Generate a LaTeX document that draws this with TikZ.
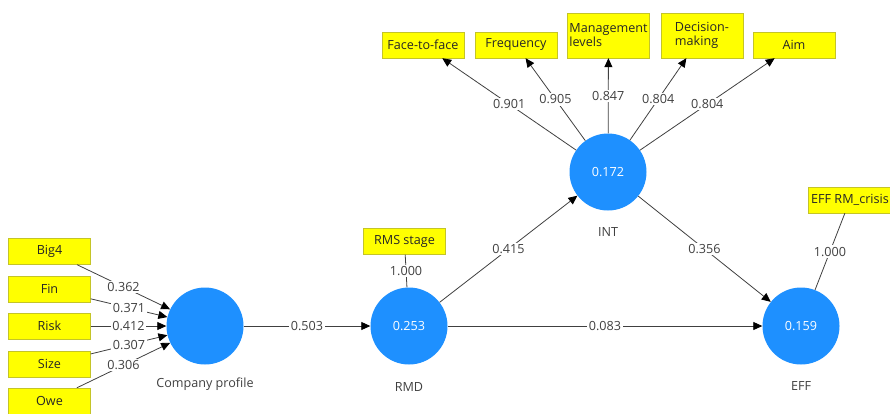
\documentclass[tikz,border=0pt]{standalone}
\usepackage{fontspec}
\setmainfont{Open Sans}
\usetikzlibrary{arrows.meta}
\definecolor{itemyellow}{RGB}{255,255,0}
\definecolor{itemborder}{RGB}{196,196,40}
\definecolor{lvblue}{RGB}{30,144,255}
\definecolor{linegray}{RGB}{64,64,64}
\def\plsfont{\fontsize{12.6}{14}\selectfont}
\tikzset{
	item/.style={draw=itemborder, fill=itemyellow, minimum width=82pt, minimum height=26pt, inner sep=1pt, text=black!85, align=left, font=\plsfont},
	lv/.style={circle, fill=lvblue, minimum size=77pt, inner sep=0pt, text=white, font=\plsfont},
	lvname/.style={text=linegray, font=\plsfont},
	load/.style={draw=linegray, line width=0.8pt, -{Triangle[length=9pt,width=8pt,color=black]}},
	single/.style={draw=linegray, line width=0.8pt},
	coef/.style={midway, fill=white, inner sep=1.5pt, text=linegray, font=\plsfont}
}

\begin{document}
\begin{tikzpicture}[x=1pt,y=-1pt]
			%%%%% START %%%%%
			\useasboundingbox (0,0) rectangle (890,413);
			
			\node[lv] (cp) at (205,326) {};
			\node[lv] (rmd) at (409,326) {0.253};
			\node[lv] (int) at (608,172) {0.172};
			\node[lv] (eff) at (801,326) {0.159};
			
			\node[lvname] (cpname) at (205,384) {Company profile};
			\node[lvname] (rmdname) at (409,387) {RMD};
			\node[lvname] (intname) at (608,232) {INT};
			\node[lvname] (effname) at (801,386) {EFF};
			
			\node[item] (big4) at (49.5,251.5) {Big4};
			\node[item] (fin) at (49.5,289) {Fin};
			\node[item] (risk) at (49.5,326) {Risk};
			\node[item] (size) at (49.5,364) {Size};
			\node[item] (owe) at (49.5,401) {Owe};
			
			\node[item] (face) at (423,45) {Face-to-face};
			\node[item] (freq) at (516,45) {Frequency};
			\node[item, minimum height=45pt] (mgmt) at (608.5,35.5) {Management\\levels};
			\node[item, minimum height=45pt] (dec) at (702,35.5) {Decision-\\making};
			\node[item] (aim) at (794,45) {Aim};
			
			\node[item] (rms) at (404.5,241.5) {RMS stage};
			\node[item, minimum width=84pt] (crisis) at (850,200) {EFF RM\_crisis};
			
			\draw[load] (big4) -- node[coef] {0.362} (cp);
			\draw[load] (fin) -- node[coef] {0.371} (cp);
			\draw[load] (risk) -- node[coef] {0.412} (cp);
			\draw[load] (size) -- node[coef] {0.307} (cp);
			\draw[load] (owe) -- node[coef] {0.306} (cp);
			
			\draw[load] (int) -- node[coef] {0.901} (face);
			\draw[load] (int) -- node[coef] {0.905} (freq);
			\draw[load] (int) -- node[coef] {0.847} (mgmt);
			\draw[load] (int) -- node[coef] {0.804} (dec);
			\draw[load] (int) -- node[coef] {0.804} (aim);
			
			\draw[single] (rms) -- node[coef] {1.000} (rmd);
			\draw[single] (crisis) -- node[coef] {1.000} (eff);
			
			\draw[load] (cp) -- node[coef] {0.503} (rmd);
			\draw[load] (rmd) -- node[coef] {0.415} (int);
			\draw[load] (int) -- node[coef] {0.356} (eff);
			\draw[load] (rmd) -- node[coef] {0.083} (eff);
			
			%%%%% END %%%%%
		\end{tikzpicture}
\end{document}
